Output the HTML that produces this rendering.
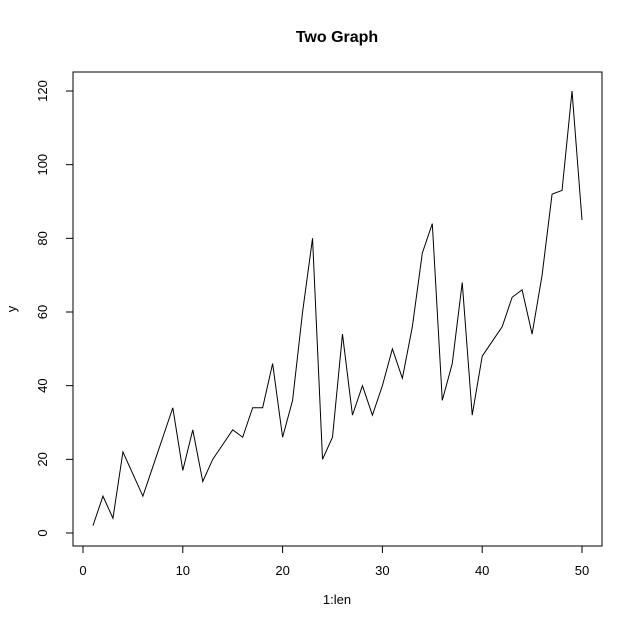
<!DOCTYPE html>
<html><head><meta charset="utf-8"><style>
body{margin:0;background:#fff;}
svg{display:block;font-family:"Liberation Sans",Arial,sans-serif;}
</style></head><body>
<svg id="chart" width="641" height="636">
<text x="337" y="42" text-anchor="middle" font-size="16" font-weight="bold">Two Graph</text>
<rect x="73" y="72" width="529" height="474" fill="none" stroke="#000" stroke-width="1"/>
<text x="337" y="604" text-anchor="middle" font-size="13">1:len</text>
<text x="16" y="309" text-anchor="middle" font-size="13" transform="rotate(-90 16 309)">y</text>
<g id="axes"></g>
<polyline id="series" fill="none" stroke="#000" stroke-width="1"/>
</svg>
<script>
const values = [2,10,4,22,16,10,18,26,34,17,28,14,20,24,28,26,34,34,46,26,36,60,80,20,26,54,32,40,32,40,50,42,56,76,84,36,46,68,32,48,52,56,64,66,54,70,92,93,120,85];
const xTicks = [0,10,20,30,40,50];
const yTicks = [0,20,40,60,80,100,120];
function sx(v){return 83 + v*9.98;}
function sy(v){return 533 - v*(442/120);}
const NS="http://www.w3.org/2000/svg";
const axes=document.getElementById('axes');
function mk(tag,attrs){const e=document.createElementNS(NS,tag);for(const k in attrs)e.setAttribute(k,attrs[k]);return e;}
const xl=mk('line',{x1:sx(0),x2:sx(50),y1:546,y2:546,stroke:'#000'});


axes.appendChild(xl);
xTicks.forEach(t=>{
  const l=mk('line',{x1:sx(t),x2:sx(t),y1:546,y2:553,stroke:'#000'});
  
  
  axes.appendChild(l);
  const tx=mk('text',{x:sx(t),y:575,'text-anchor':'middle','font-size':13});
  tx.textContent=t;
  
  
  axes.appendChild(tx);
});
const yl=mk('line',{x1:73,x2:73,y1:sy(0),y2:sy(120),stroke:'#000'});


axes.appendChild(yl);
yTicks.forEach(t=>{
  const l=mk('line',{x1:66,x2:73,y1:sy(t),y2:sy(t),stroke:'#000'});
  
  
  axes.appendChild(l);
  const tx=mk('text',{x:47,y:sy(t),'text-anchor':'middle','font-size':13,transform:'rotate(-90 47 '+sy(t)+')'});
  tx.textContent=t;
  
  
  axes.appendChild(tx);
});
document.getElementById('series').setAttribute('points',values.map((v,i)=>sx(i+1)+','+sy(v)).join(' '));
</script>
</body></html>
